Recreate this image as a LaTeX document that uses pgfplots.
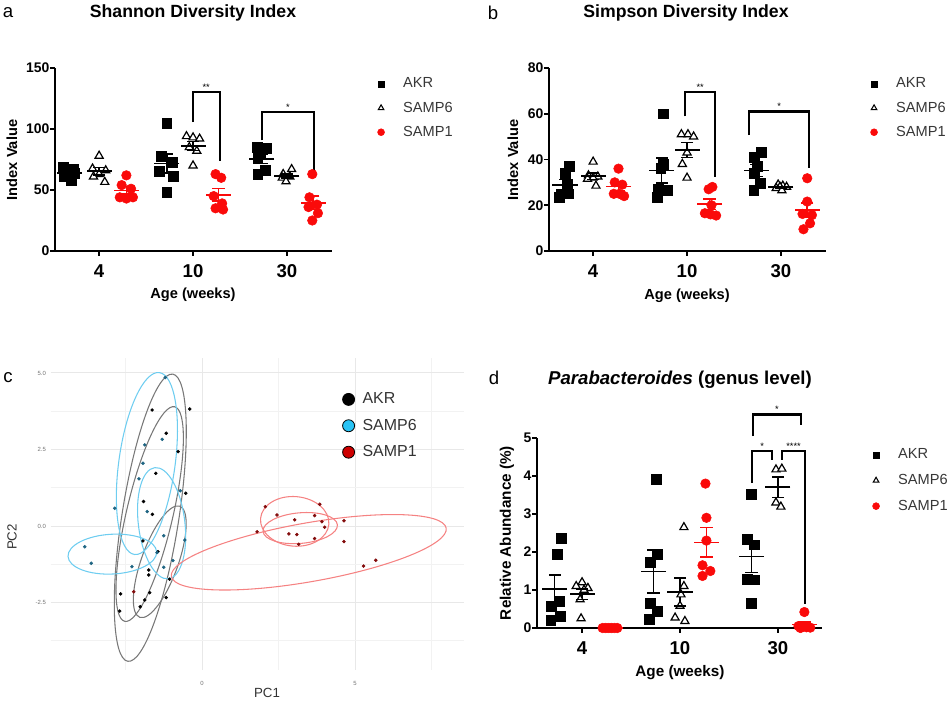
\documentclass[border=0pt]{standalone}
\usepackage{fontspec}
\setmainfont{Liberation Sans}
\usepackage{pgfplots}
\pgfplotsset{compat=1.18}
\definecolor{sred}{RGB}{250,10,10}
\definecolor{akrell}{RGB}{120,120,120}
\definecolor{s6ell}{RGB}{110,205,240}
\definecolor{s1ell}{RGB}{245,130,130}
\definecolor{s6pt}{RGB}{30,100,130}
\definecolor{s1pt}{RGB}{130,10,10}
\definecolor{s6leg}{RGB}{40,195,245}
\definecolor{s1leg}{RGB}{205,0,0}
\definecolor{txtgray}{RGB}{55,55,55}
\pgfplotsset{
  gp/.style={
    scale only axis,
    axis lines*=left,
    axis line style={line width=1.2bp},
    every tick/.style={black, line width=1.2bp},
    major tick length=3.75bp,
    tick align=outside,
    xtick={1,2,3}, xticklabels={4,10,30},
    /pgf/number format/assume math mode=true,
    yticklabel style={font=\fontsize{10.5}{12}\selectfont\bfseries, inner xsep=1bp, xshift=0.8bp},
    xticklabel style={font=\fontsize{14}{16}\selectfont\bfseries, yshift=-3bp},
    clip=false,
    legend style={draw=none, fill=none, anchor=north west, font=\fontsize{11}{13}\selectfont, text=txtgray, row sep=5bp, column sep=12bp, inner sep=0pt, cells={anchor=west}},
    legend image code/.code={\draw[mark repeat=2,mark phase=2,##1] plot coordinates {(0cm,0cm)(0.15cm,0cm)(0.3cm,0cm)};},
  },
  akr/.style={only marks, mark=square*, mark size=3.7bp, black},
  s6/.style={only marks, mark=triangle*, mark size=3.5bp, black, mark options={draw=black, fill=white, line width=0.9bp}},
  s1/.style={only marks, mark=*, mark size=3.6bp, sred, mark options={draw=sred, fill=sred}},
  ms/.style={only marks, mark=-, mark size=9.4bp, line width=1.2bp, mark options={line width=1.2bp},
    error bars/y dir=both, error bars/y explicit,
    error bars/error bar style={line width=1.2bp},
    error bars/error mark=none},
  cap/.style={only marks, mark=-, mark size=4.6bp, mark options={line width=1.2bp}},
  br/.style={black, line width=1.6bp, mark=none},
}
\begin{document}
\begin{tikzpicture}
\useasboundingbox (0,0) rectangle (713.25bp,526.5bp);

% ---------------- Panel a ----------------
\begin{axis}[gp, at={(41.25bp,338.25bp)}, anchor=south west, width=207.75bp, height=137.25bp,
  xmin=0.53, xmax=3.48, ymin=0, ymax=150, ytick={0,50,100,150},
  legend style={at={(1.1637,0.9617)}}]
\addlegendimage{only marks, mark=square*, mark size=2.3bp, black}
\addlegendentry{AKR}
\addlegendimage{only marks, mark=triangle*, mark size=2.4bp, black, mark options={draw=black, fill=white, line width=0.8bp}}
\addlegendentry{SAMP6}
\addlegendimage{only marks, mark=*, mark size=2.6bp, sred}
\addlegendentry{SAMP1}
\addplot[akr, forget plot] coordinates {(0.62,69) (0.72,67) (0.66,66) (0.74,64) (0.63,61) (0.70,58)
  (1.72,105) (1.66,78) (1.78,73) (1.64,65) (1.79,61) (1.72,48)
  (2.68,85) (2.78,84) (2.72,79) (2.69,76) (2.77,66) (2.69,63)};
\addplot[s6, forget plot] coordinates {(1.0,78) (0.93,67.5) (1.07,66) (1.0,63) (0.94,61) (1.06,56.5)
  (1.93,94) (2.0,93) (2.07,92) (1.96,85) (2.04,82) (2.0,70)
  (3.05,67) (2.96,63) (3.03,61) (2.95,60) (2.99,57)};
\addplot[s1, forget plot] coordinates {(1.29,62) (1.24,54) (1.34,51) (1.22,44) (1.29,43) (1.36,44)
  (2.24,63) (2.30,60) (2.22,45) (2.31,39) (2.24,35) (2.32,34)
  (3.27,63) (3.24,44) (3.32,38) (3.23,36) (3.33,31) (3.27,25)};
\addplot[black, ms, forget plot] coordinates {(0.68,64.17) +- (0,1.66) (1.0,65.33) +- (0,2.99) (1.72,71.67) +- (0,7.9) (2.0,86) +- (0,3.75) (2.73,75.5) +- (0,3.75) (3.0,61.6) +- (0,1.66)};
\addplot[black, cap, forget plot] coordinates {(0.68,65.83) (0.68,62.51) (1.0,68.32) (1.0,62.34) (1.72,79.57) (1.72,63.77) (2.0,89.75) (2.0,82.25) (2.73,79.25) (2.73,71.75) (3.0,63.26) (3.0,59.94)};
\addplot[sred, ms, forget plot] coordinates {(1.29,49.67) +- (0,3.06) (2.27,46) +- (0,5.16) (3.28,39.5) +- (0,5.38)};
\addplot[sred, cap, forget plot] coordinates {(1.29,52.73) (1.29,46.61) (2.27,51.16) (2.27,40.84) (3.28,44.88) (3.28,34.12)};
\addplot[br, forget plot] coordinates {(2.0,105.7) (2.0,130) (2.287,130) (2.287,74)};
\addplot[br, forget plot] coordinates {(2.734,90.7) (2.734,114) (3.287,114) (3.287,64.8)};
\node[anchor=south, inner sep=1bp, font=\fontsize{7}{8}\selectfont] at (axis cs:2.14,130) {**};
\node[anchor=south, inner sep=1bp, font=\fontsize{7}{8}\selectfont] at (axis cs:3.01,114) {*};
\end{axis}

% ---------------- Panel b ----------------
\begin{axis}[gp, at={(411.75bp,338.25bp)}, anchor=south west, width=207.75bp, height=137.25bp,
  xmin=0.53, xmax=3.48, ymin=0, ymax=80, ytick={0,20,40,60,80},
  legend style={at={(1.160,0.9617)}}]
\addlegendimage{only marks, mark=square*, mark size=2.3bp, black}
\addlegendentry{AKR}
\addlegendimage{only marks, mark=triangle*, mark size=2.4bp, black, mark options={draw=black, fill=white, line width=0.8bp}}
\addlegendentry{SAMP6}
\addlegendimage{only marks, mark=*, mark size=2.6bp, sred}
\addlegendentry{SAMP1}
\addplot[akr, forget plot] coordinates {(0.75,37) (0.70,34) (0.72,29) (0.66,25) (0.74,25) (0.64,23.5)
  (1.75,60) (1.75,38) (1.72,36) (1.69,27) (1.79,26.5) (1.68,23.5)
  (2.79,43) (2.72,41) (2.75,37) (2.72,34) (2.78,29.5) (2.71,26.5)};
\addplot[s6, forget plot] coordinates {(1.0,39) (0.95,33) (1.05,32.5) (1.0,32) (0.94,31.5) (1.03,28.5)
  (1.94,51) (2.01,51) (2.07,50) (2.0,43) (1.95,38) (2.0,32)
  (2.97,29) (3.02,28.5) (3.06,28) (2.99,28) (2.95,27.5) (3.01,26.5)};
\addplot[s1, forget plot] coordinates {(1.27,36) (1.23,30) (1.31,29) (1.22,25) (1.28,25) (1.33,24)
  (2.27,28) (2.23,27) (2.26,20) (2.19,16.5) (2.25,16) (2.31,15.5)
  (3.28,31.8) (3.28,21.6) (3.23,16.2) (3.33,15.7) (3.31,12.1) (3.24,9.5)};
\addplot[black, ms, forget plot] coordinates {(0.70,28.92) +- (0,2.25) (1.0,32.75) +- (0,1.41) (1.73,35.17) +- (0,5.49) (2.0,44.17) +- (0,3.24) (2.74,35.17) +- (0,2.63) (3.0,27.92) +- (0,0.35)};
\addplot[black, cap, forget plot] coordinates {(0.70,31.17) (0.70,26.67) (1.0,34.16) (1.0,31.34) (1.73,40.66) (1.73,29.68) (2.0,47.41) (2.0,40.93) (2.74,37.8) (2.74,32.54) (3.0,28.27) (3.0,27.57)};
\addplot[sred, ms, forget plot] coordinates {(1.27,28.17) +- (0,1.85) (2.24,20.5) +- (0,2.31) (3.28,17.82) +- (0,3.26)};
\addplot[sred, cap, forget plot] coordinates {(1.27,30.02) (1.27,26.32) (2.24,22.81) (2.24,18.19) (3.28,21.08) (3.28,14.56)};
\addplot[br, forget plot] coordinates {(1.98,58.8) (1.98,69.4) (2.30,69.4) (2.30,32.5)};
\addplot[br, forget plot] coordinates {(2.66,50.7) (2.66,61) (3.30,61) (3.30,36.1)};
\node[anchor=south, inner sep=1bp, font=\fontsize{7}{8}\selectfont] at (axis cs:2.14,69.4) {**};
\node[anchor=south, inner sep=1bp, font=\fontsize{7}{8}\selectfont] at (axis cs:2.98,61) {*};
\end{axis}

% ---------------- Panel d ----------------
\begin{axis}[gp, at={(402.75bp,55.5bp)}, anchor=south west, width=213.75bp, height=142.5bp,
  xmin=0.54, xmax=3.45, ymin=0, ymax=5, ytick={0,1,2,3,4,5},
  legend style={at={(1.1766,0.958)}, row sep=6.1bp}]
\addlegendimage{only marks, mark=square*, mark size=2.3bp, black}
\addlegendentry{AKR}
\addlegendimage{only marks, mark=triangle*, mark size=2.4bp, black, mark options={draw=black, fill=white, line width=0.8bp}}
\addlegendentry{SAMP6}
\addlegendimage{only marks, mark=*, mark size=2.6bp, sred}
\addlegendentry{SAMP1}
\addplot[akr, forget plot] coordinates {(0.79,2.36) (0.75,1.95) (0.77,0.71) (0.69,0.58) (0.78,0.31) (0.68,0.2)
  (1.76,3.92) (1.77,1.93) (1.70,1.73) (1.70,0.65) (1.77,0.44) (1.69,0.24)
  (2.73,3.53) (2.69,2.33) (2.76,2.19) (2.69,1.29) (2.76,1.27) (2.73,0.65)};
\addplot[s6, forget plot] coordinates {(1.0,1.2) (0.94,1.1) (1.06,1.05) (1.02,1.0) (0.98,0.75) (0.99,0.25)
  (2.04,2.65) (2.04,1.1) (2.01,0.88) (2.0,0.58) (1.95,0.27) (2.05,0.18)
  (2.98,4.17) (3.04,4.19) (2.98,3.3) (3.03,3.19)};
\addplot[s1, forget plot] coordinates {(1.21,0) (1.24,0) (1.27,0) (1.30,0) (1.33,0) (1.36,0)
  (2.26,3.8) (2.27,2.9) (2.27,2.3) (2.23,1.65) (2.31,1.5) (2.23,1.37)
  (3.27,0.42) (3.21,0.05) (3.25,0.03) (3.29,0.02) (3.33,0.01) (3.23,0)};
\addplot[black, ms, forget plot] coordinates {(0.72,1.02) +- (0,0.371) (1.0,0.89) +- (0,0.142) (1.73,1.485) +- (0,0.563) (2.0,0.943) +- (0,0.37) (2.73,1.877) +- (0,0.418) (3.0,3.71) +- (0,0.271)};
\addplot[black, cap, forget plot] coordinates {(0.72,1.391) (0.72,0.649) (1.0,1.032) (1.0,0.748) (1.73,2.048) (1.73,0.922) (2.0,1.313) (2.0,0.573) (2.73,2.295) (2.73,1.459) (3.0,3.981) (3.0,3.439)};
\addplot[sred, ms, forget plot] coordinates {(1.29,0) +- (0,0) (2.27,2.253) +- (0,0.388) (3.27,0.088) +- (0,0.067)};
\addplot[sred, cap, forget plot] coordinates {(2.27,2.641) (2.27,1.865) (3.27,0.155) (3.27,0.021)};
\addplot[br, forget plot] coordinates {(2.745,5.05) (2.745,5.62) (3.235,5.62) (3.235,5.35)};
\addplot[br, forget plot] coordinates {(2.735,3.81) (2.735,4.65) (2.94,4.65) (2.94,4.43)};
\addplot[br, forget plot] coordinates {(3.04,4.43) (3.04,4.65) (3.275,4.65) (3.275,0.62)};
\node[anchor=south, inner sep=1bp, font=\fontsize{7}{8}\selectfont] at (axis cs:2.99,5.62) {*};
\node[anchor=south, inner sep=1bp, font=\fontsize{7}{8}\selectfont] at (axis cs:2.84,4.65) {*};
\node[anchor=south, inner sep=1bp, font=\fontsize{7}{8}\selectfont] at (axis cs:3.16,4.65) {****};
\end{axis}

% ---------------- Panel c ----------------
\begin{axis}[at={(37.9bp,24.15bp)}, anchor=south west, scale only axis, width=309.8bp, height=234.1bp,
  xmin=-4.95, xmax=8.55, ymin=-4.7, ymax=5.5,
  axis line style={draw=none},
  major tick length=0pt, minor tick length=0pt,
  xtick={0,5}, xticklabels={0,5}, ytick={-2.5,0,2.5,5}, yticklabels={-2.5,0.0,2.5,5.0},
  minor xtick={-2.5,2.5,7.5}, minor ytick={-3.75,-1.25,1.25,3.75},
  grid=both, major grid style={black!9, line width=0.7bp}, minor grid style={black!5, line width=0.45bp},
  tick label style={font=\fontsize{4.5}{5}\selectfont, text=black!55},
  xticklabel style={yshift=-5bp},
  /pgf/number format/assume math mode=true,
  clip=false,
  legend style={at={(0.7064,0.8964)}, anchor=north west, draw=none, fill=none, font=\fontsize{12}{14}\selectfont, text=black!80, row sep=6bp, column sep=4bp, inner sep=0pt, cells={anchor=west}},
  legend image code/.code={\draw[mark repeat=2,mark phase=2,#1] plot coordinates {(0cm,0cm)(0.15cm,0cm)(0.3cm,0cm)};}]
\addlegendimage{only marks, mark=*, mark size=4.5bp, mark options={draw=black, fill=black, line width=0.6bp}}
\addlegendentry{AKR}
\addlegendimage{only marks, mark=*, mark size=4.5bp, mark options={draw=black, fill=s6leg, line width=0.6bp}}
\addlegendentry{SAMP6}
\addlegendimage{only marks, mark=*, mark size=4.5bp, mark options={draw=black, fill=s1leg, line width=0.6bp}}
\addlegendentry{SAMP1}
% ellipses
\draw[akrell, line width=0.8bp, rotate around={81.1:(axis cs:-1.69,0.27)}] (axis cs:-1.69,0.27) ellipse [x radius=4.75, y radius=0.93];
\draw[akrell, line width=0.8bp, rotate around={76.9:(axis cs:-1.71,0.39)}] (axis cs:-1.71,0.39) ellipse [x radius=3.6, y radius=0.76];
\draw[akrell, line width=0.8bp, rotate around={70.2:(axis cs:-1.38,-1.17)}] (axis cs:-1.38,-1.17) ellipse [x radius=1.93, y radius=0.6];
\draw[s6ell, line width=0.8bp, rotate around={82.2:(axis cs:-1.80,2.04)}] (axis cs:-1.80,2.04) ellipse [x radius=3.0, y radius=0.92];
\draw[s6ell, line width=0.8bp, rotate around={97:(axis cs:-1.32,0.09)}] (axis cs:-1.32,0.09) ellipse [x radius=1.83, y radius=0.76];
\draw[s6ell, line width=0.8bp, rotate around={3:(axis cs:-2.93,-0.92)}] (axis cs:-2.93,-0.92) ellipse [x radius=1.45, y radius=0.65];
\draw[s1ell, line width=0.8bp, rotate around={10:(axis cs:3.49,-0.86)}] (axis cs:3.49,-0.86) ellipse [x radius=4.56, y radius=0.96];
\draw[s1ell, line width=0.8bp, rotate around={-5:(axis cs:3.03,0.15)}] (axis cs:3.03,0.15) ellipse [x radius=1.12, y radius=0.81];
\draw[s1ell, line width=0.8bp, rotate around={5:(axis cs:3.21,-0.07)}] (axis cs:3.21,-0.07) ellipse [x radius=1.22, y radius=0.5];
% points
\addplot[only marks, mark=*, mark size=1.1bp, black, forget plot] coordinates {
 (-1.63,3.79) (-0.40,3.82) (-1.17,3.03) (-0.78,2.43) (-1.51,1.72) (-0.53,1.07) (-1.91,0.80) (-1.62,0.38)
 (-1.93,-0.49) (-1.44,-0.84) (-1.74,-1.44) (-1.74,-1.60) (-1.06,-1.74) (-2.66,-2.22) (-1.71,-2.18)
 (-1.87,-2.42) (-1.17,-2.34) (-2.02,-2.64) (-2.69,-2.78)};
\addplot[only marks, mark=*, mark size=1.1bp, s6pt, forget plot] coordinates {
 (-1.20,4.85) (-1.30,2.83) (-1.87,2.65) (-1.93,2.05) (-2.06,1.54) (-0.71,1.15) (-2.85,0.58) (-1.79,0.47)
 (-1.25,-0.32) (-1.47,-0.87) (-3.83,-0.68) (-3.62,-1.22) (-2.29,-1.33) (-1.25,-1.35) (-0.95,-1.13) (-0.56,-0.46)};
\addplot[only marks, mark=*, mark size=1.1bp, s1pt, forget plot] coordinates {
 (2.07,0.63) (2.45,0.36) (3.85,0.71) (3.68,0.34) (3.03,0.20) (3.92,0.14) (4.01,-0.04) (4.64,0.17)
 (1.80,-0.19) (2.84,-0.26) (3.10,-0.28) (3.16,-0.60) (3.68,-0.41) (4.64,-0.51) (5.68,-1.12) (5.28,-1.31) (-2.23,-2.15)};
\end{axis}

% ---------------- Text ----------------
\node[font=\fontsize{13.3}{15}\selectfont\bfseries] at (144.75bp,516.75bp) {Shannon Diversity Index};
\node[font=\fontsize{13.3}{15}\selectfont\bfseries] at (514.5bp,516.75bp) {Simpson Diversity Index};
\node[font=\fontsize{14}{16}\selectfont\bfseries] at (510bp,241.5bp) {\textit{Parabacteroides} (genus level)};
\node[font=\fontsize{14}{16}\selectfont] at (6bp,516.75bp) {a};
\node[font=\fontsize{14}{16}\selectfont] at (369.75bp,516.75bp) {b};
\node[font=\fontsize{14}{16}\selectfont] at (6bp,243bp) {c};
\node[font=\fontsize{14}{16}\selectfont] at (370.5bp,243bp) {d};
\node[font=\fontsize{11}{13}\selectfont\bfseries, rotate=90] at (9bp,406.5bp) {Index Value};
\node[font=\fontsize{11}{13}\selectfont\bfseries] at (144.75bp,305.25bp) {Age (weeks)};
\node[font=\fontsize{11}{13}\selectfont\bfseries, rotate=90] at (384.75bp,406.5bp) {Index Value};
\node[font=\fontsize{11}{13}\selectfont\bfseries] at (515.25bp,304.5bp) {Age (weeks)};
\node[font=\fontsize{11.5}{13}\selectfont\bfseries, rotate=90] at (380.25bp,126.75bp) {Relative Abundance (\%)};
\node[font=\fontsize{11.5}{13}\selectfont\bfseries] at (510bp,21.75bp) {Age (weeks)};
\node[font=\fontsize{10}{12}\selectfont, text=black!80, rotate=90] at (9bp,123.75bp) {PC2};
\node[font=\fontsize{10}{12}\selectfont, text=black!80] at (200.25bp,6.75bp) {PC1};
\end{tikzpicture}
\end{document}
